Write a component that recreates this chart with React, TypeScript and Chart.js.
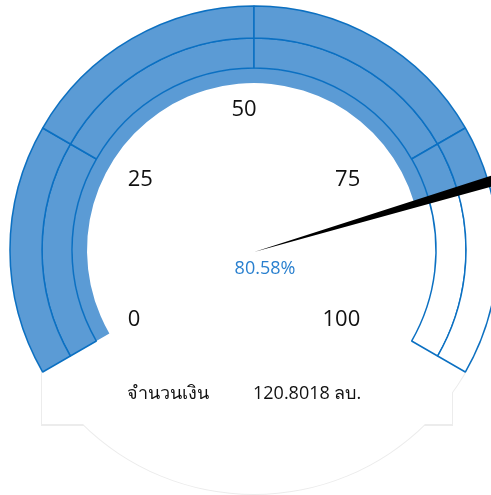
import React, { useEffect, useRef } from "react";
import { Chart, registerables } from "chart.js";

Chart.register(...registerables);

// ---- data ----
const gaugeTicks = [0, 25, 50, 75, 100];
const bandSizes = [25, 25, 25, 25];
const percentValue = 80.58;
const needleWidth = 1; // in gauge percent units
const amountLabel = "จำนวนเงิน";
const amountValue = "120.8018 ลบ.";

// ---- styles ----
const FILL = "#5B9BD5";
const LINE = "#0B70C2";
const VALUE_COLOR = "#2A80CF";
const FONT = "'Open Sans', 'Noto Sans', 'DejaVu Sans', sans-serif";
const ROTATION = -120;
const CIRCUMFERENCE = 240;
const RADIUS = 244;
const OUTLINE = "#ececec";

function splitAt(sizes: number[], value: number) {
  const data: number[] = [];
  const filled: boolean[] = [];
  let acc = 0;
  for (const s of sizes) {
    if (acc + s <= value) {
      data.push(s);
      filled.push(true);
    } else if (acc >= value) {
      data.push(s);
      filled.push(false);
    } else {
      data.push(value - acc);
      filled.push(true);
      data.push(acc + s - value);
      filled.push(false);
    }
    acc += s;
  }
  return { data, filled };
}

const layoutPadding = { left: 17, right: 0, top: 0, bottom: 117 };

const labelPlugin = {
  id: "gaugeLabels",
  afterDatasetsDraw(chart: any) {
    const arc: any = chart.getDatasetMeta(0).data[0];
    if (!arc) return;
    const cx = arc.x;
    const cy = arc.y;
    const R = RADIUS;
    const ctx = chart.ctx;
    ctx.save();
    ctx.font = `22px ${FONT}`;
    ctx.fillStyle = "#111111";
    ctx.textBaseline = "middle";
    const max = gaugeTicks[gaugeTicks.length - 1];
    gaugeTicks.forEach((t) => {
      const deg = ROTATION + (t / max) * CIRCUMFERENCE;
      const th = (deg * Math.PI) / 180;
      const s = Math.sin(th);
      const c = Math.cos(th);
      const x = cx - 0.041 * R + 0.55 * R * s;
      const y = cy - 0.575 * R * c;
      ctx.textAlign = Math.abs(s) < 0.01 ? "center" : s < 0 ? "left" : "right";
      ctx.fillText(String(t), x, y);
    });
    ctx.font = `18px ${FONT}`;
    ctx.fillStyle = VALUE_COLOR;
    ctx.textAlign = "center";
    ctx.fillText(`${percentValue.toFixed(2)}%`, cx + 11, cy + 19);
    ctx.restore();
  },
};

export default function App() {
  const mainRef = useRef<HTMLCanvasElement>(null);
  const needleRef = useRef<HTMLCanvasElement>(null);

  useEffect(() => {
    const { data, filled } = splitAt(bandSizes, percentValue);
    const ringBg = filled.map((f) => (f ? FILL : "#FFFFFF"));
    const common: any = {
      responsive: true,
      maintainAspectRatio: false,
      animation: false,
      events: [],
      rotation: ROTATION,
      circumference: CIRCUMFERENCE,
      layout: { padding: layoutPadding },
      plugins: { legend: { display: false }, tooltip: { enabled: false } },
    };
    const main = new Chart(mainRef.current!, {
      type: "doughnut",
      data: {
        labels: data.map((_, i) => String(i)),
        datasets: [
          {
            data,
            backgroundColor: ringBg,
            borderColor: LINE,
            borderWidth: 1.5,
            weight: 32,
          },
          {
            data,
            backgroundColor: ringBg,
            borderColor: LINE,
            borderWidth: 1.5,
            weight: 30,
          },
          {
            data: [percentValue, 100 - percentValue],
            backgroundColor: [FILL, "rgba(0,0,0,0)"],
            borderWidth: 0,
            weight: 15,
          },
        ],
      },
      options: { ...common, radius: RADIUS, cutout: `${(167 / 244) * 100}%` },
      plugins: [labelPlugin],
    });
    const needle = new Chart(needleRef.current!, {
      type: "pie",
      data: {
        labels: ["a", "needle", "b"],
        datasets: [
          {
            data: [
              percentValue - needleWidth / 2,
              needleWidth,
              100 - percentValue - needleWidth / 2,
            ],
            backgroundColor: ["rgba(0,0,0,0)", "#000000", "rgba(0,0,0,0)"],
            borderWidth: 0,
          },
        ],
      },
      options: { ...common, radius: 252 },
    });
    return () => {
      main.destroy();
      needle.destroy();
    };
  }, []);

  const abs: React.CSSProperties = { position: "absolute" };
  return (
    <div style={{ ...abs, left: 0, top: 0, width: 491, height: 495, overflow: "hidden", background: "#fff" }}>
      {/* faint backdrop outline: circle + text box */}
      <div style={{ ...abs, left: 254 - 245, top: 250 - 245, width: 490, height: 490, borderRadius: "50%", background: OUTLINE }} />
      <div style={{ ...abs, left: 41, top: 340, width: 412, height: 86, background: OUTLINE }} />
      <div style={{ ...abs, left: 254 - 244, top: 250 - 244, width: 488, height: 488, borderRadius: "50%", background: "#fff" }} />
      <div style={{ ...abs, left: 42, top: 340, width: 410, height: 84, background: "#fff" }} />
      <div style={{ ...abs, left: 0, top: 0, width: 491, height: 495 }}>
        <canvas ref={mainRef} />
      </div>
      <div style={{ ...abs, left: 0, top: 0, width: 491, height: 495 }}>
        <canvas ref={needleRef} />
      </div>
      <div style={{ ...abs, left: 127, top: 380, fontFamily: FONT, fontSize: 18, color: "#111", whiteSpace: "nowrap", lineHeight: "24px" }}>
        {amountLabel}
      </div>
      <div style={{ ...abs, left: 253, top: 380, fontFamily: FONT, fontSize: 18, color: "#111", whiteSpace: "nowrap", lineHeight: "24px" }}>
        {amountValue}
      </div>
    </div>
  );
}
